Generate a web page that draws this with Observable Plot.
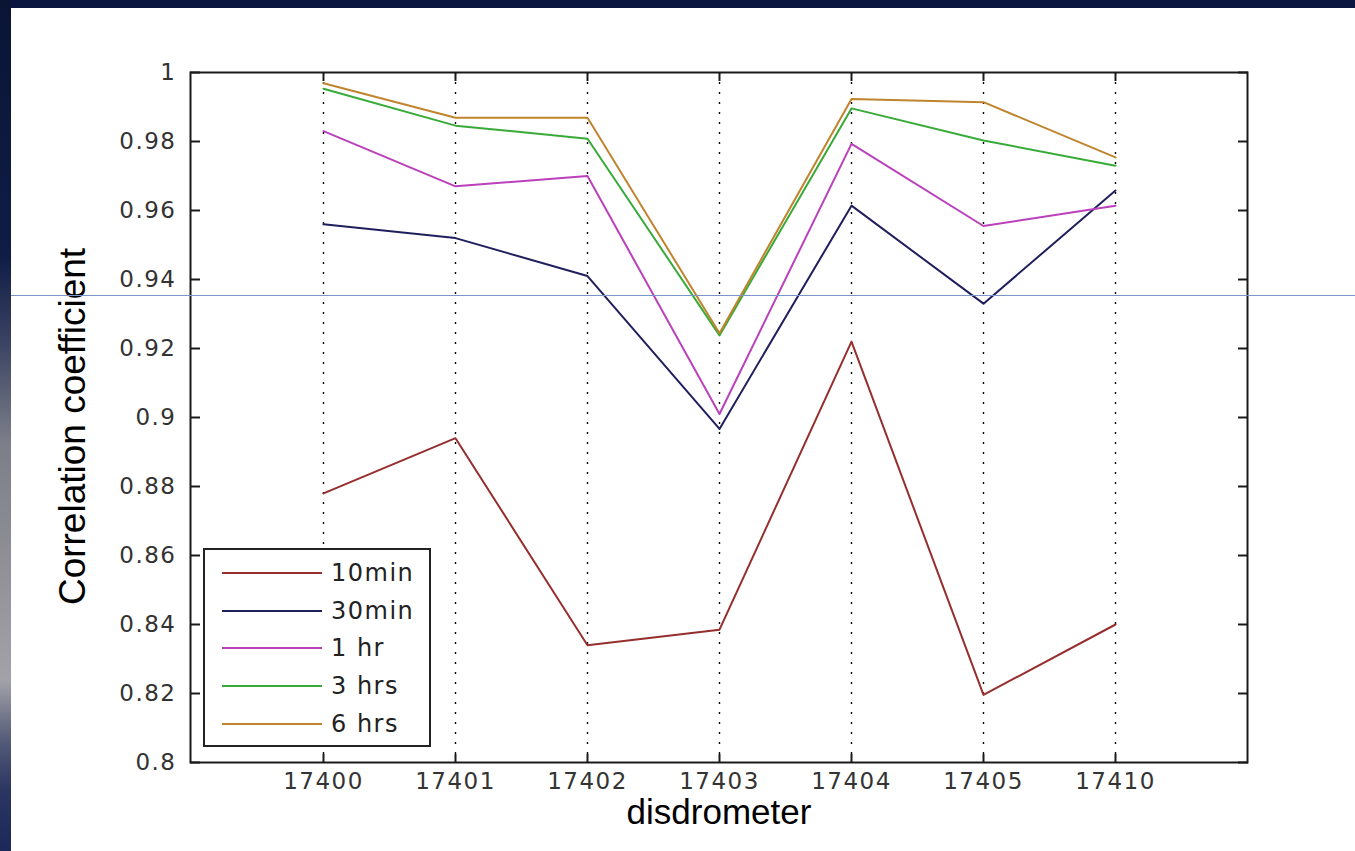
<!DOCTYPE html>
<html><head><meta charset="utf-8">
<script src="https://cdn.jsdelivr.net/npm/d3@7"></script>
<script src="https://cdn.jsdelivr.net/npm/@observablehq/plot@0.6"></script>
<style>
html,body{margin:0;padding:0;background:#fff;width:1355px;height:851px;overflow:hidden;position:relative;}
#chart{position:absolute;left:0;top:0;z-index:1;}
#topband{position:absolute;left:0;top:0;width:1355px;height:8px;background:#0a1640;z-index:3;}
#leftband{position:absolute;left:0;top:0;width:11px;height:851px;z-index:3;
  background:linear-gradient(to bottom,#0a1535 0%,#0f1c45 30%,#3a4262 40%,#7c7e88 52%,#8e8e94 65%,#a2a2a8 80%,#555b78 87%,#2a3560 93%,#1c2858 100%);}
#hline{position:absolute;left:11px;top:295px;width:1344px;height:1px;background:#7b95c6;z-index:4;}
#legend{position:absolute;left:203px;top:548px;width:224px;height:195px;border:2px solid #222;background:#fff;z-index:2;
  font-family:"DejaVu Sans",sans-serif;font-size:24px;color:#222;}
#legend .row{position:absolute;left:0;height:30px;display:flex;align-items:center;}
#legend .row svg{margin-left:17px;}
#legend .row span{margin-left:9px;letter-spacing:1.5px;line-height:30px;}
g[aria-label$="tick label"] text{letter-spacing:1.5px;}
</style></head>
<body>
<div id="chart"></div>
<div id="legend"></div>
<div id="topband"></div>
<div id="leftband"></div>
<div id="hline"></div>
<script>
const categories = ["17400","17401","17402","17403","17404","17405","17410"];
const seriesNames = ["10min","30min","1 hr","3 hrs","6 hrs"];
const r10min = [0.878, 0.894, 0.834, 0.8385, 0.922, 0.8196, 0.840];
const r30min = [0.956, 0.952, 0.941, 0.8967, 0.9614, 0.933, 0.9658];
const r1hr   = [0.983, 0.967, 0.970, 0.901, 0.9793, 0.9555, 0.9614];
const r3hrs  = [0.9953, 0.9846, 0.9808, 0.9238, 0.9896, 0.9803, 0.973];
const r6hrs  = [0.9969, 0.9869, 0.9869, 0.9244, 0.9923, 0.9914, 0.9754];
const yTicks = [0.8, 0.82, 0.84, 0.86, 0.88, 0.9, 0.92, 0.94, 0.96, 0.98, 1];
const yTickLabels = ["0.8","0.82","0.84","0.86","0.88","0.9","0.92","0.94","0.96","0.98","1"];
const seriesColors = ["#962e2e","#1f1f5e","#bb40bb","#38aa38","#c0842e"];

const seriesValues = [r10min, r30min, r1hr, r3hrs, r6hrs];
const rows = seriesNames.flatMap((s, si) => categories.map((c, ci) => ({series: s, disdrometer: c, r: seriesValues[si][ci]})));

const chart = Plot.plot({
  width: 1355, height: 851,
  marginLeft: 190, marginRight: 108, marginTop: 72, marginBottom: 89,
  style: {background: "transparent", fontFamily: "DejaVu Sans", fontSize: "23px", color: "#222"},
  x: {type: "point", domain: categories, padding: 1},
  y: {domain: [0.8, 1]},
  color: {domain: seriesNames, range: seriesColors},
  marks: [
    Plot.gridX({stroke: "#000", strokeOpacity: 1, strokeDasharray: "2,8", strokeWidth: 1.4}),
    Plot.line(rows, {x: "disdrometer", y: "r", z: "series", stroke: "series", strokeWidth: 2}),
    Plot.frame({stroke: "#1a1a1a", strokeWidth: 2}),
    Plot.axisY({anchor: "left", ticks: yTicks, tickSize: 0, tickPadding: 14, tickFormat: d => yTickLabels[yTicks.indexOf(d)], label: null, fill: "#333", fontSize: 23}),
    Plot.axisY({anchor: "left", ticks: yTicks, tickSize: 10, inset: 10, fill: "none", label: null, stroke: "#1a1a1a", strokeWidth: 2}),
    Plot.axisY({anchor: "right", ticks: yTicks, tickSize: 10, inset: 10, fill: "none", label: null, stroke: "#1a1a1a", strokeWidth: 2}),
    Plot.axisX({anchor: "bottom", tickSize: 0, tickPadding: 10, label: null, fill: "#333", fontSize: 23}),
    Plot.axisX({anchor: "bottom", tickSize: 8, inset: 8, fill: "none", label: null, stroke: "#1a1a1a", strokeWidth: 2}),
    Plot.axisX({anchor: "top", tickSize: 8, inset: 8, fill: "none", label: null, stroke: "#1a1a1a", strokeWidth: 2}),
    Plot.text(["disdrometer"], {text: d => d, frameAnchor: "bottom", dy: 61, fontSize: 35, fill: "#000", fontFamily: "Liberation Sans"}),
    Plot.text(["Correlation coefficient"], {text: d => d, frameAnchor: "left", textAnchor: "middle", rotate: -90, dx: -117, dy: 9, fontSize: 37, fill: "#000", fontFamily: "Liberation Sans"})
  ]
});
document.getElementById("chart").appendChild(chart);

const legend = document.getElementById("legend");
seriesNames.forEach((s, i) => {
  const row = document.createElement("div");
  row.className = "row";
  row.style.top = (8 + i * 37.7) + "px";
  row.innerHTML = `<svg width="100" height="4"><line x1="0" x2="100" y1="2" y2="2" stroke="${seriesColors[i]}" stroke-width="2"/></svg><span>${s}</span>`;
  legend.appendChild(row);
});
</script>
</body></html>
